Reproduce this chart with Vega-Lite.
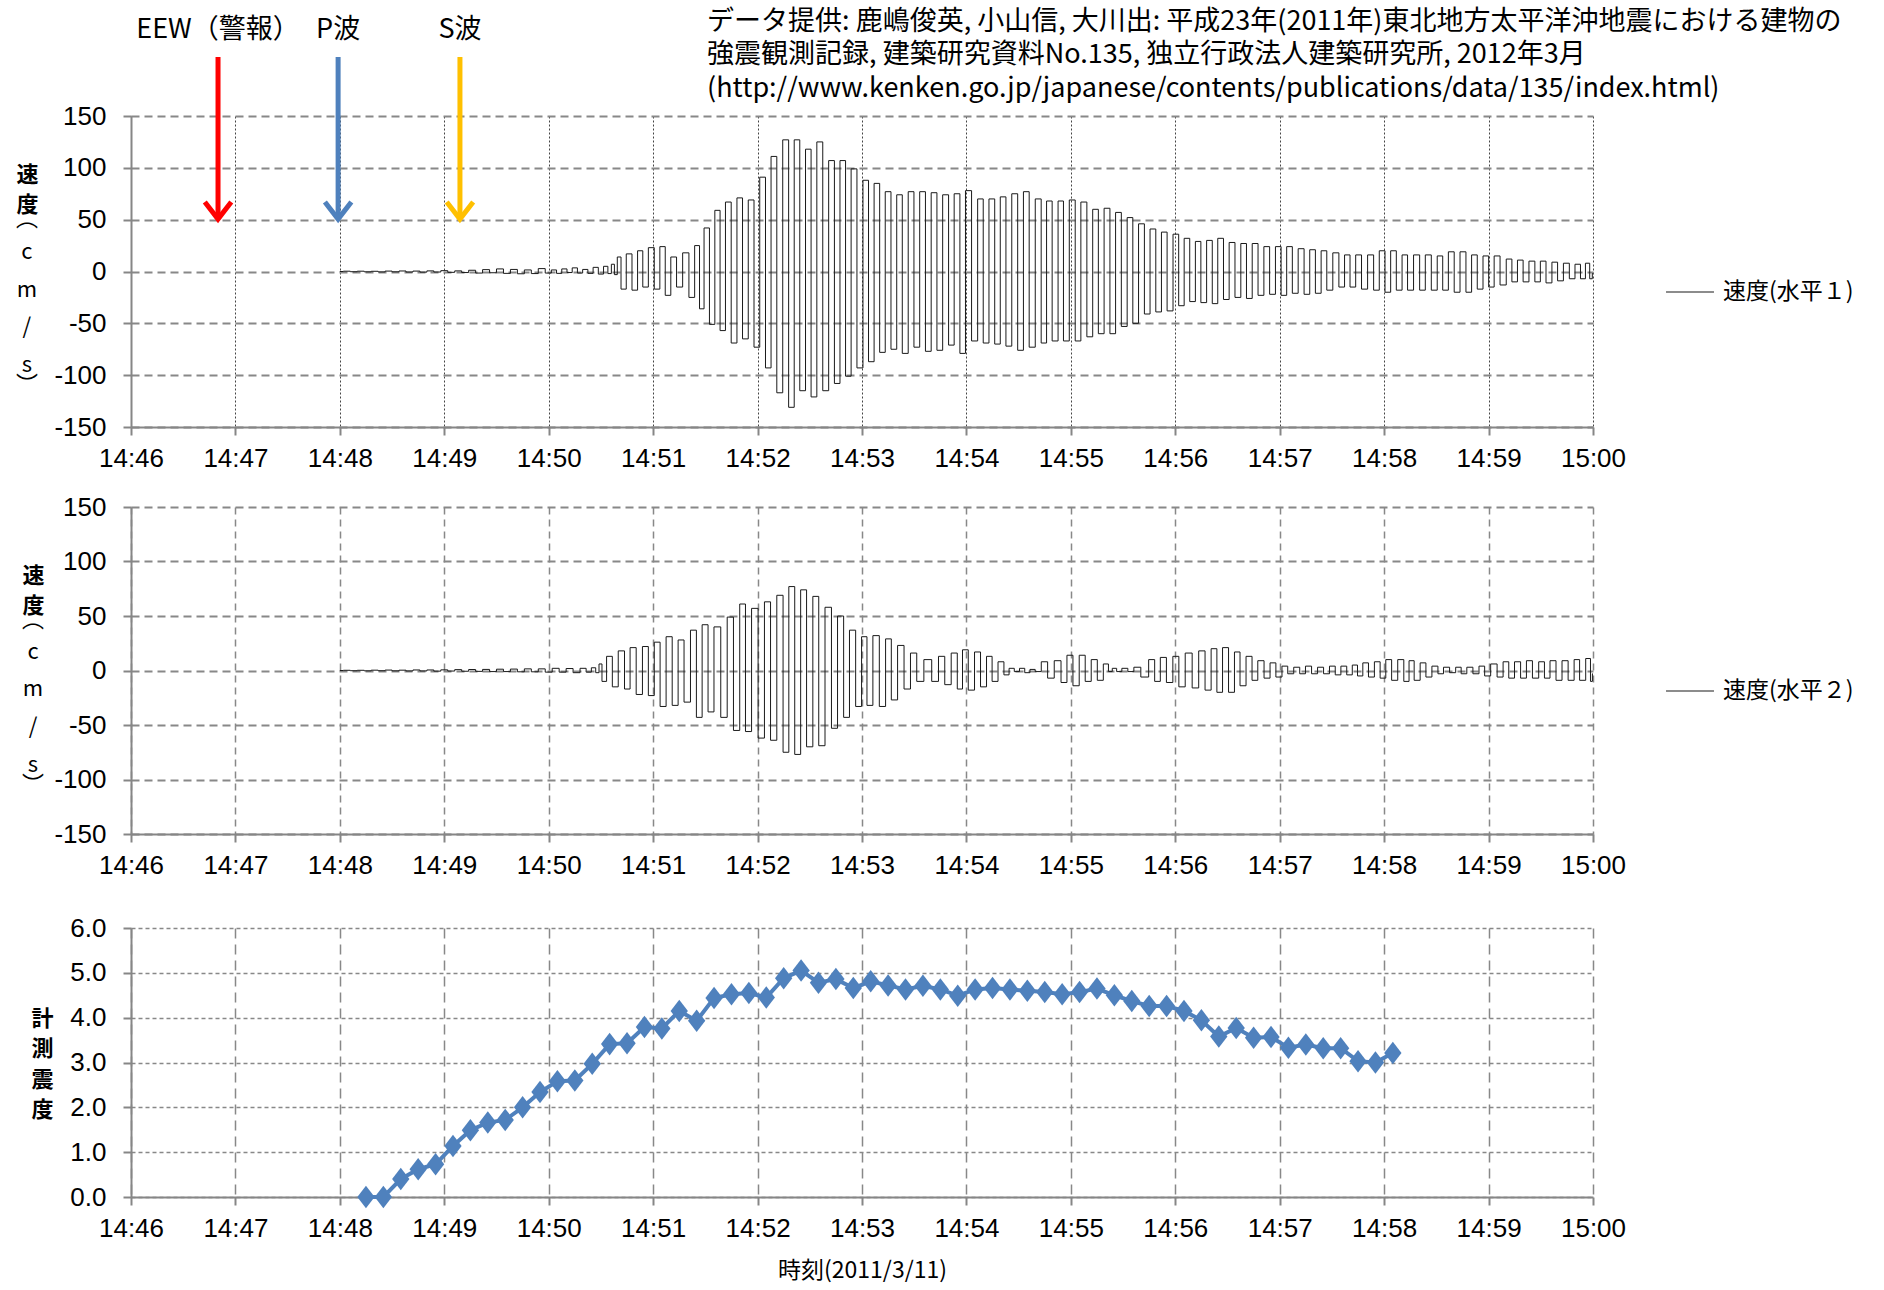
{
  "$schema": "https://vega.github.io/schema/vega-lite/v6.json",
  "padding": {"left": 15, "top": 7, "right": 0, "bottom": 8},
  "autosize": {"type": "pad"},
  "spacing": 23,
  "resolve": {"scale": {"color": "independent"}, "legend": {"color": "independent"}},
  "datasets": {
    "h1": [
      {"s":120,"v":0},{"s":124,"v":0.3},{"s":128,"v":-0.2},{"s":132,"v":0.3},{"s":136,"v":-0.3},{"s":140,"v":0.2},{"s":144,"v":-0.4},{"s":148,"v":0.4},{"s":152,"v":-0.3},{"s":156,"v":0.5},{"s":160,"v":-0.5},{"s":164,"v":0.4},{"s":168,"v":-0.6},{"s":172,"v":0.6},{"s":176,"v":-0.5},{"s":180,"v":0.8},{"s":184,"v":-0.8},{"s":188,"v":0.6},{"s":192,"v":-1},{"s":196,"v":1.2},{"s":200,"v":-1.5},{"s":204,"v":1.8},{"s":208,"v":-1.2},{"s":212,"v":2.5},{"s":216,"v":-1.8},{"s":220,"v":2},{"s":224,"v":-2.2},{"s":228,"v":1.5},{"s":232,"v":-2},{"s":236,"v":2.8},{"s":240,"v":-1.5},{"s":243,"v":1.5},{"s":246,"v":-1.8},{"s":249,"v":2.5},{"s":252,"v":-1},{"s":255,"v":3.5},{"s":258,"v":-1.5},{"s":261,"v":2},{"s":264,"v":-1.8},{"s":267,"v":4},{"s":270,"v":-2.5},{"s":273,"v":5},{"s":275,"v":-2},{"s":277,"v":7},{"s":278.5,"v":-3},
      {"s":280.3,"v":14},{"s":282.8,"v":-17},{"s":286.3,"v":17},{"s":289.4,"v":-18},{"s":292.7,"v":20},{"s":295.4,"v":-15},{"s":299.1,"v":23},{"s":302.2,"v":-17},{"s":305.5,"v":24},{"s":308.4,"v":-23},{"s":311.9,"v":14},{"s":315.0,"v":-15},{"s":318.9,"v":18},{"s":322.2,"v":-25},{"s":325.5,"v":25},{"s":327.8,"v":-36},{"s":330.7,"v":42},{"s":334.0,"v":-51},{"s":336.9,"v":59},{"s":340.0,"v":-57},{"s":343.1,"v":67},{"s":346.6,"v":-69},{"s":349.7,"v":71},{"s":353.0,"v":-65},{"s":356.3,"v":69},{"s":359.6,"v":-73},{"s":362.9,"v":91},{"s":366.2,"v":-93},{"s":369.3,"v":111},{"s":372.8,"v":-117},{"s":376.1,"v":127},{"s":379.6,"v":-131},{"s":382.5,"v":127},{"s":386.0,"v":-115},{"s":389.1,"v":118},{"s":392.4,"v":-121},{"s":395.7,"v":125},{"s":399.2,"v":-115},{"s":402.5,"v":107},{"s":405.8,"v":-108},{"s":408.9,"v":107},{"s":412.2,"v":-101},{"s":415.3,"v":99},{"s":418.9,"v":-93},{"s":422.2,"v":88},{"s":425.3,"v":-87},{"s":428.6,"v":85},{"s":431.7,"v":-78},{"s":435.0,"v":77},{"s":438.3,"v":-75},{"s":441.6,"v":74},{"s":444.7,"v":-79},{"s":448.4,"v":77},{"s":451.3,"v":-73},{"s":455.0,"v":77},{"s":457.9,"v":-77},{"s":461.6,"v":76},{"s":464.5,"v":-76},{"s":468.2,"v":74},{"s":471.3,"v":-71},{"s":474.6,"v":75},{"s":477.9,"v":-79},{"s":481.0,"v":78},{"s":484.9,"v":-67},{"s":488.0,"v":70},{"s":491.3,"v":-69},{"s":494.6,"v":70},{"s":497.9,"v":-70},{"s":501.0,"v":72},{"s":504.4,"v":-72},{"s":507.7,"v":75},{"s":511.2,"v":-76},{"s":514.3,"v":77},{"s":517.8,"v":-73},{"s":521.3,"v":70},{"s":524.6,"v":-69},{"s":527.5,"v":68},{"s":531.0,"v":-67},{"s":534.3,"v":68},{"s":537.2,"v":-67},
      {"s":541.0,"v":69},{"s":544.0,"v":-67},{"s":547.5,"v":67},{"s":550.9,"v":-63},{"s":554.2,"v":60},{"s":557.4,"v":-60},{"s":560.8,"v":61},{"s":564.1,"v":-60},{"s":567.3,"v":57},{"s":570.7,"v":-53},{"s":574.0,"v":52},{"s":577.2,"v":-50},{"s":580.6,"v":46},{"s":583.9,"v":-41},{"s":587.1,"v":41},{"s":590.5,"v":-39},{"s":593.6,"v":38},{"s":597.0,"v":-38},{"s":600.4,"v":36},{"s":603.5,"v":-33},{"s":606.7,"v":32},{"s":609.9,"v":-29},{"s":613.2,"v":29},{"s":616.2,"v":-30},{"s":619.8,"v":30},{"s":622.7,"v":-31},{"s":626.1,"v":32},{"s":629.3,"v":-27},{"s":632.6,"v":28},{"s":636.0,"v":-25},{"s":639.3,"v":27},{"s":642.5,"v":-26},{"s":645.9,"v":27},{"s":649.2,"v":-23},{"s":652.6,"v":24},{"s":655.8,"v":-22},{"s":659.3,"v":24},{"s":662.3,"v":-23},{"s":665.7,"v":24},{"s":668.8,"v":-21},{"s":672.4,"v":22},{"s":675.6,"v":-22},{"s":678.9,"v":21},{"s":682.1,"v":-21},{"s":685.5,"v":20},{"s":688.6,"v":-18},{"s":692.4,"v":18},{"s":695.6,"v":-15},{"s":698.9,"v":16},{"s":701.9,"v":-15},{"s":705.4,"v":16},{"s":708.6,"v":-17},{"s":712.4,"v":16},{"s":715.5,"v":-18},{"s":718.9,"v":20},{"s":722.1,"v":-20},{"s":725.4,"v":20},{"s":728.6,"v":-18},{"s":732.0,"v":16},{"s":734.9,"v":-18},{"s":738.9,"v":16},{"s":741.9,"v":-18},{"s":745.4,"v":16},{"s":748.8,"v":-18},{"s":752.2,"v":15},{"s":755.1,"v":-18},{"s":758.7,"v":19},{"s":761.8,"v":-20},{"s":765.4,"v":19},{"s":768.6,"v":-20},{"s":771.9,"v":16},{"s":775.1,"v":-17},{"s":778.5,"v":15},{"s":781.6,"v":-15},{"s":784.8,"v":15},{"s":788.4,"v":-13},{"s":791.9,"v":12},{"s":794.9,"v":-10},{"s":798.3,"v":11},{"s":801.4,"v":-10},{"s":805.0,"v":10},{"s":808.2,"v":-10},{"s":811.3,"v":10},{"s":814.7,"v":-11},{"s":818.1,"v":9},{"s":821.2,"v":-9},{"s":824.8,"v":8},{"s":828.0,"v":-7},{"s":831.3,"v":7},{"s":834.3,"v":-7},{"s":837.0,"v":8},{"s":839.2,"v":-7},{"s":840,"v":-2}
    ],
    "h2": [
      {"s":120,"v":0},{"s":124,"v":0.2},{"s":128,"v":-0.2},{"s":132,"v":0.2},{"s":136,"v":-0.3},{"s":140,"v":0.3},{"s":144,"v":-0.2},{"s":148,"v":0.4},{"s":152,"v":-0.3},{"s":156,"v":0.3},{"s":160,"v":-0.4},{"s":164,"v":0.5},{"s":168,"v":-0.4},{"s":172,"v":0.5},{"s":176,"v":-0.6},{"s":180,"v":0.6},{"s":184,"v":-0.5},{"s":188,"v":0.8},{"s":192,"v":-0.7},{"s":196,"v":0.9},{"s":200,"v":-0.8},{"s":204,"v":1},{"s":208,"v":-1},{"s":212,"v":1.2},{"s":216,"v":-1},{"s":220,"v":1.3},{"s":224,"v":-1.2},{"s":228,"v":1.5},{"s":232,"v":-1.2},{"s":236,"v":1.5},{"s":240,"v":-1.5},{"s":244,"v":2},{"s":248,"v":-1.5},{"s":252,"v":1.8},{"s":256,"v":-2},{"s":260,"v":2},{"s":263,"v":-1.5},{"s":266,"v":2.5},{"s":268,"v":-2},
      {"s":269.8,"v":6},{"s":271.4,"v":-10},{"s":275.1,"v":13},{"s":278.0,"v":-15},{"s":281.9,"v":18},{"s":285.2,"v":-17},{"s":288.3,"v":21},{"s":292.2,"v":-22},{"s":295.5,"v":22},{"s":299.0,"v":-23},{"s":302.3,"v":26},{"s":305.7,"v":-33},{"s":309.2,"v":31},{"s":312.7,"v":-32},{"s":316.0,"v":28},{"s":319.5,"v":-29},{"s":323.4,"v":37},{"s":326.3,"v":-43},{"s":330.0,"v":42},{"s":333.1,"v":-38},{"s":336.8,"v":40},{"s":340.9,"v":-43},{"s":344.2,"v":49},{"s":348.1,"v":-55},{"s":351.4,"v":61},{"s":354.7,"v":-56},{"s":358.4,"v":57},{"s":362.2,"v":-62},{"s":365.7,"v":63},{"s":369.2,"v":-64},{"s":372.9,"v":69},{"s":376.4,"v":-75},{"s":379.5,"v":77},{"s":383.2,"v":-77},{"s":386.3,"v":74},{"s":390.0,"v":-70},{"s":393.5,"v":68},{"s":396.8,"v":-69},{"s":400.7,"v":58},{"s":404.2,"v":-53},{"s":407.7,"v":50},{"s":411.2,"v":-43},{"s":414.4,"v":37},{"s":418.3,"v":-33},{"s":421.2,"v":31},{"s":424.5,"v":-32},{"s":428.0,"v":32},{"s":431.9,"v":-33},{"s":435.2,"v":29},{"s":438.5,"v":-27},{"s":442.4,"v":23},{"s":445.9,"v":-17},{"s":449.8,"v":16},{"s":453.1,"v":-10},{"s":458.0,"v":10},{"s":462.1,"v":-10},{"s":465.8,"v":13},{"s":469.3,"v":-13},{"s":473.2,"v":16},{"s":476.3,"v":-17},{"s":479.2,"v":19},{"s":482.9,"v":-18},{"s":486.4,"v":17},{"s":489.8,"v":-15},{"s":493.3,"v":13},{"s":496.2,"v":-10},{"s":500.1,"v":8},{"s":503.0,"v":-4},{"s":506,"v":2},{"s":509,"v":-1},{"s":512,"v":2},{"s":515,"v":-2},{"s":518,"v":1},{"s":521,"v":-1},{"s":525.0,"v":8},{"s":528.3,"v":-7},{"s":532.6,"v":9},{"s":536.1,"v":-11},{"s":539.4,"v":14},
      {"s":543.0,"v":-14},{"s":546.6,"v":14},{"s":549.9,"v":-10},{"s":553.5,"v":10},{"s":556.9,"v":-9},{"s":560.4,"v":6},{"s":562.8,"v":-1},{"s":564.8,"v":2},{"s":567.8,"v":-1},{"s":570.8,"v":2},{"s":574.7,"v":-1},{"s":577.7,"v":3},{"s":582.7,"v":-6},{"s":586.7,"v":10},{"s":589.6,"v":-10},{"s":593.2,"v":12},{"s":596.6,"v":-11},{"s":600.6,"v":13},{"s":603.5,"v":-15},{"s":607.9,"v":16},{"s":611.5,"v":-16},{"s":615.4,"v":18},{"s":618.8,"v":-18},{"s":622.4,"v":20},{"s":625.4,"v":-20},{"s":628.9,"v":21},{"s":632.3,"v":-20},{"s":635.7,"v":17},{"s":638.7,"v":-14},{"s":642.6,"v":13},{"s":645.6,"v":-9},{"s":649.2,"v":9},{"s":652.8,"v":-7},{"s":656.1,"v":7},{"s":659.5,"v":-6},{"s":663.1,"v":4},{"s":666.1,"v":-3},{"s":670.0,"v":3},{"s":673.0,"v":-3},{"s":676.6,"v":4},{"s":680.0,"v":-3},{"s":683.5,"v":3},{"s":686.9,"v":-3},{"s":690.3,"v":4},{"s":693.5,"v":-4},{"s":696.8,"v":4},{"s":700.2,"v":-4},{"s":703.2,"v":5},{"s":706.2,"v":-5},{"s":709.3,"v":7},{"s":712.7,"v":-6},{"s":716.1,"v":8},{"s":719.3,"v":-7},{"s":722.6,"v":10},{"s":726.0,"v":-9},{"s":729.6,"v":10},{"s":733.0,"v":-10},{"s":735.6,"v":9},{"s":738.9,"v":-9},{"s":742.5,"v":7},{"s":745.5,"v":-6},{"s":749.4,"v":4},{"s":752.4,"v":-3},{"s":755.8,"v":3},{"s":759.4,"v":-2},{"s":762.8,"v":3},{"s":765.7,"v":-3},{"s":769.3,"v":3},{"s":772.7,"v":-3},{"s":776.3,"v":4},{"s":779.2,"v":-5},{"s":783.2,"v":6},{"s":786.6,"v":-6},{"s":790.1,"v":8},{"s":793.1,"v":-7},{"s":796.7,"v":8},{"s":800.1,"v":-7},{"s":803.4,"v":9},{"s":807.0,"v":-7},{"s":810.6,"v":8},{"s":813.6,"v":-7},{"s":817.0,"v":9},{"s":820.5,"v":-9},{"s":823.9,"v":9},{"s":827.5,"v":-9},{"s":830.8,"v":10},{"s":833.8,"v":-9},{"s":837.8,"v":11},{"s":839.3,"v":-10},{"s":840,"v":-3}
    ],
    "shindo": [
      {"s":135,"i":0.0},{"s":145,"i":0.0},{"s":155,"i":0.40},{"s":165,"i":0.62},{"s":175,"i":0.73},{"s":185,"i":1.14},{"s":195,"i":1.49},{"s":205,"i":1.66},{"s":215,"i":1.72},{"s":225,"i":2.0},
      {"s":235,"i":2.34},{"s":245,"i":2.58},{"s":255,"i":2.60},{"s":265,"i":2.97},{"s":275,"i":3.41},{"s":285,"i":3.43},{"s":295,"i":3.79},{"s":305,"i":3.76},{"s":315,"i":4.15},{"s":325,"i":3.93},
      {"s":335,"i":4.44},{"s":345,"i":4.52},{"s":355,"i":4.55},{"s":365,"i":4.45},{"s":375,"i":4.88},{"s":385,"i":5.05},{"s":395,"i":4.78},{"s":405,"i":4.86},{"s":415,"i":4.66},{"s":425,"i":4.81},
      {"s":435,"i":4.72},{"s":445,"i":4.63},{"s":455,"i":4.71},{"s":465,"i":4.63},{"s":475,"i":4.49},{"s":485,"i":4.63},{"s":495,"i":4.66},{"s":505,"i":4.63},{"s":515,"i":4.60},{"s":525,"i":4.57},
      {"s":535,"i":4.52},{"s":545,"i":4.57},{"s":555,"i":4.65},{"s":565,"i":4.50},{"s":575,"i":4.37},{"s":585,"i":4.26},{"s":595,"i":4.26},{"s":605,"i":4.15},{"s":615,"i":3.94},{"s":625,"i":3.58},
      {"s":635,"i":3.77},{"s":645,"i":3.55},{"s":655,"i":3.57},{"s":665,"i":3.33},{"s":675,"i":3.40},{"s":685,"i":3.32},{"s":695,"i":3.32},{"s":705,"i":3.03},{"s":715,"i":3.00},{"s":725,"i":3.21}
    ],
    "arrows": [
      {"name":"EEW（警報）","s":50},
      {"name":"P波","s":119},
      {"name":"S波","s":189}
    ]
  },
  "vconcat": [
    {
      "width": 1462,
      "height": 311,
      "layer": [
        {
          "data": {"name": "h1"},
          "mark": {"type": "line", "interpolate": "step", "strokeWidth": 1},
          "encoding": {
            "x": {"field": "s", "type": "quantitative",
              "scale": {"domain": [0, 840], "nice": false, "zero": false},
              "axis": {"values": [0,60,120,180,240,300,360,420,480,540,600,660,720,780,840],
                "labelExpr": "datum.value >= 840 ? '15:00' : '14:' + (46 + datum.value / 60)",
                "labelFlush": false, "labelOverlap": false,
                "grid": true, "gridDash": [2,2], "gridColor": "#444444", "gridWidth": 1, "title": null}},
            "y": {"field": "v", "type": "quantitative",
              "scale": {"domain": [-150, 150], "nice": false},
              "axis": {"values": [-150,-100,-50,0,50,100,150], "labelExpr": "'' + datum.value",
                "grid": true, "gridDash": [8,5], "gridColor": "#888888", "gridWidth": 2,
                "title": ["速","度"], "titleAngle": 0, "titleX": -104, "titleY": 48, "titleAlign": "center", "titleBaseline": "top",
                "titleFontSize": 22, "titleFontWeight": "bold", "titleLineHeight": 30}},
            "color": {"datum": "速度(水平１)", "scale": {"range": ["#1a1a1a"]},
              "legend": {"orient": "none", "legendX": 1534, "legendY": 151, "title": null}}
          }
        },
        {
          "data": {"name": "arrows"},
          "mark": {"type": "rule", "strokeWidth": 5},
          "encoding": {
            "x": {"field": "s", "type": "quantitative"},
            "y": {"datum": 207},
            "y2": {"datum": 53},
            "stroke": {"field": "name", "type": "nominal", "scale": {"domain": ["EEW（警報）","P波","S波"], "range": ["#FF0000","#4F81BD","#FFC000"]}, "legend": null}
          }
        },
        {
          "data": {"name": "arrows"},
          "mark": {"type": "point", "shape": "M-1,-1.3L0,0L1,-1.3", "size": 700, "filled": false, "strokeWidth": 5, "opacity": 1},
          "encoding": {
            "x": {"field": "s", "type": "quantitative"},
            "y": {"datum": 50.5},
            "stroke": {"field": "name", "type": "nominal", "legend": null}
          }
        },
        {
          "data": {"name": "arrows"},
          "mark": {"type": "text", "fontSize": 27, "baseline": "middle", "align": "center", "color": "#000000", "font": "Noto Sans CJK JP"},
          "encoding": {
            "x": {"field": "s", "type": "quantitative"},
            "y": {"datum": 232.5},
            "text": {"field": "name"}
          }
        },
        {
          "data": {"values": [{}]},
          "mark": {"type": "text", "fontSize": 27, "lineHeight": 33.5, "baseline": "top", "align": "left", "color": "#000000", "font": "Noto Sans CJK JP",
            "text": ["データ提供: 鹿嶋俊英, 小山信, 大川出: 平成23年(2011年)東北地方太平洋沖地震における建物の", "強震観測記録, 建築研究資料No.135, 独立行政法人建築研究所, 2012年3月", "(http://www.kenken.go.jp/japanese/contents/publications/data/135/index.html)"]},
          "encoding": {
            "x": {"datum": 331},
            "y": {"datum": 253.5}
          }
        },
        {
          "data": {"values": [{}]},
          "mark": {"type": "text", "fontSize": 22, "lineHeight": 37.6, "baseline": "top", "align": "center", "color": "#000000", "font": "Noto Sans CJK JP",
            "text": ["c","m","/","s"]},
          "encoding": {
            "x": {"datum": -59.8},
            "y": {"datum": 28.2}
          }
        },
        {
          "data": {"values": [{}]},
          "mark": {"type": "text", "fontSize": 22, "lineHeight": 165.8, "baseline": "top", "align": "center", "color": "#000000", "font": "Noto Sans CJK JP",
            "text": ["︵","︶"]},
          "encoding": {
            "x": {"datum": -59.8},
            "y": {"datum": 60.3}
          }
        }
      ]
    },
    {
      "width": 1462,
      "height": 327,
      "layer": [
        {
          "data": {"name": "h2"},
          "mark": {"type": "line", "interpolate": "step", "strokeWidth": 1},
          "encoding": {
            "x": {"field": "s", "type": "quantitative",
              "scale": {"domain": [0, 840], "nice": false, "zero": false},
              "axis": {"values": [0,60,120,180,240,300,360,420,480,540,600,660,720,780,840],
                "labelExpr": "datum.value >= 840 ? '15:00' : '14:' + (46 + datum.value / 60)",
                "labelFlush": false, "labelOverlap": false,
                "grid": true, "gridDash": [7,5], "gridColor": "#888888", "gridWidth": 1.5,
                "title": "　", "titleFontSize": 14, "titlePadding": 0}},
            "y": {"field": "v", "type": "quantitative",
              "scale": {"domain": [-150, 150], "nice": false},
              "axis": {"values": [-150,-100,-50,0,50,100,150], "labelExpr": "'' + datum.value",
                "grid": true, "gridDash": [8,5], "gridColor": "#888888", "gridWidth": 2,
                "title": ["速","度"], "titleAngle": 0, "titleX": -98, "titleY": 58, "titleAlign": "center", "titleBaseline": "top",
                "titleFontSize": 22, "titleFontWeight": "bold", "titleLineHeight": 30}},
            "color": {"datum": "速度(水平２)", "scale": {"range": ["#1a1a1a"]},
              "legend": {"orient": "none", "legendX": 1534, "legendY": 159, "title": null}}
          }
        },
        {
          "data": {"values": [{}]},
          "mark": {"type": "text", "fontSize": 22, "lineHeight": 37.6, "baseline": "top", "align": "center", "color": "#000000", "font": "Noto Sans CJK JP",
            "text": ["c","m","/","s"]},
          "encoding": {
            "x": {"datum": -56.3},
            "y": {"datum": 26.4}
          }
        },
        {
          "data": {"values": [{}]},
          "mark": {"type": "text", "fontSize": 22, "lineHeight": 165.8, "baseline": "top", "align": "center", "color": "#000000", "font": "Noto Sans CJK JP",
            "text": ["︵","︶"]},
          "encoding": {
            "x": {"datum": -56.3},
            "y": {"datum": 55.9}
          }
        }
      ]
    },
    {
      "width": 1462,
      "height": 269,
      "data": {"name": "shindo"},
      "encoding": {
        "x": {"field": "s", "type": "quantitative",
          "scale": {"domain": [0, 840], "nice": false, "zero": false},
          "axis": {"values": [0,60,120,180,240,300,360,420,480,540,600,660,720,780,840],
            "labelExpr": "datum.value >= 840 ? '15:00' : '14:' + (46 + datum.value / 60)",
            "labelFlush": false, "labelOverlap": false,
            "grid": true, "gridDash": [10,6], "gridColor": "#888888", "gridWidth": 1.5,
            "title": "時刻(2011/3/11)", "titleFontSize": 23, "titleFontWeight": "normal", "titlePadding": 18}},
        "y": {"field": "i", "type": "quantitative",
          "scale": {"domain": [0, 6], "nice": false},
          "axis": {"values": [0,1,2,3,4,5,6], "format": ".1f", "grid": true, "gridDash": [4,3], "gridColor": "#888888", "gridWidth": 1.5,
            "title": ["計","測","震","度"], "titleAngle": 0, "titleX": -89, "titleY": 80, "titleAlign": "center", "titleBaseline": "top",
            "titleFontSize": 22, "titleFontWeight": "bold", "titleLineHeight": 30.5}}
      },
      "layer": [
        {"mark": {"type": "line", "color": "#4F81BD", "strokeWidth": 4}},
        {"mark": {"type": "point", "shape": "M0,-1.3L1,0L0,1.3L-1,0Z", "size": 300, "filled": true, "color": "#4F81BD", "opacity": 1}}
      ]
    }
  ],
  "config": {
    "view": {"stroke": null},
    "font": "Noto Sans CJK JP",
    "axis": {
      "domainColor": "#868686", "domainWidth": 2,
      "tickColor": "#868686", "tickWidth": 2, "tickSize": 8,
      "labelFont": "Liberation Sans Narrow, Liberation Sans, sans-serif", "labelFontSize": 26, "labelColor": "#000000",
      "titleFont": "Noto Sans CJK JP", "titleColor": "#000000"
    },
    "axisX": {"labelPadding": 10},
    "axisY": {"labelPadding": 17},
    "legend": {
      "symbolType": "stroke", "symbolSize": 2300, "symbolStrokeWidth": 1.2,
      "labelFont": "Noto Sans CJK JP", "labelFontSize": 23, "labelColor": "#000000", "labelOffset": 8
    }
  }
}
